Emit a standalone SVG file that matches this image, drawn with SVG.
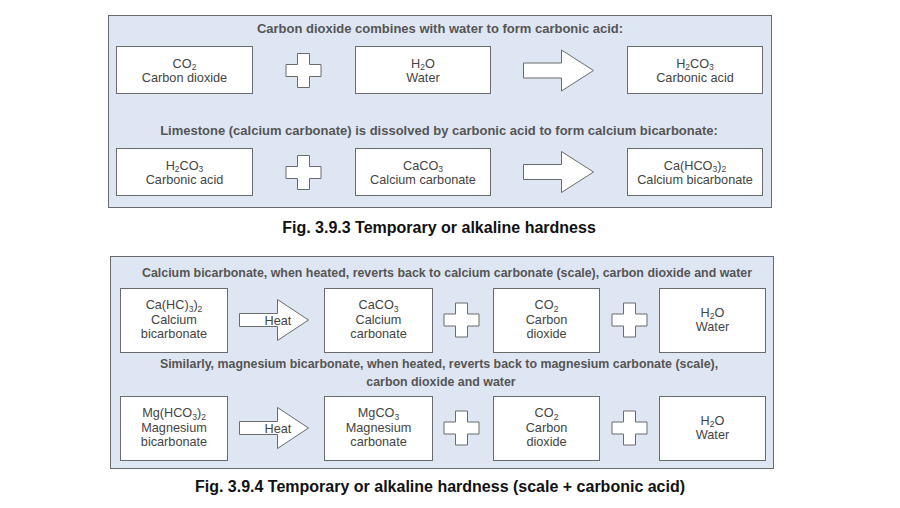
<svg xmlns="http://www.w3.org/2000/svg" width="900" height="508" viewBox="0 0 900 508">
<defs>
<style>
.panel{fill:#dfe6f3;stroke:#6b6b6b;stroke-width:1}
.box{fill:#fff;stroke:#6b6b6b;stroke-width:1}
.shape{fill:#fff;stroke:#6b6b6b;stroke-width:1;stroke-linejoin:miter}
.t{font-family:"Liberation Sans",Arial,sans-serif;font-size:12.7px;fill:#444;text-anchor:middle}
.h{font-family:"Liberation Sans",Arial,sans-serif;font-size:13px;font-weight:bold;fill:#555;text-anchor:middle}
.h2{font-size:12.4px}
.cap{font-family:"Liberation Sans",Arial,sans-serif;font-size:16px;font-weight:bold;fill:#111;text-anchor:middle}
.s{font-size:8.5px}
</style>
<path id="plus" d="M-6,-17H6V-6H17.5V6H6V17H-6V6H-17.5V-6H-6Z"/>
<path id="bigArrow" d="M0,-7.5H38V-20.5L70,0L38,20.5V7.5H0Z"/>
<path id="heatArrow" d="M0,-6.5H38V-20.5L69,0L38,20.5V6.5H0Z"/>
</defs>
<rect width="900" height="508" fill="#fff"/>

<!-- Panel 1 -->
<g id="panel1">
<rect class="panel" x="108.5" y="15.5" width="663" height="192"/>
<text class="h" x="440" y="33">Carbon dioxide combines with water to form carbonic acid:</text>
<text class="h" x="439" y="135">Limestone (calcium carbonate) is dissolved by carbonic acid to form calcium bicarbonate:</text>
</g>

<g id="co2-a">
<rect class="box" x="116.5" y="46.5" width="136" height="47"/>
<text class="t" x="184.5" y="67.5">CO<tspan class="s" dy="2.5">2</tspan></text>
<text class="t" x="184.5" y="81.5">Carbon dioxide</text>
</g>
<g id="h2o-a">
<rect class="box" x="355.5" y="46.5" width="135" height="47"/>
<text class="t" x="423" y="67.5">H<tspan class="s" dy="2.5">2</tspan><tspan dy="-2.5">O</tspan></text>
<text class="t" x="423" y="81.5">Water</text>
</g>
<g id="h2co3-a">
<rect class="box" x="627.5" y="46.5" width="135" height="47"/>
<text class="t" x="695" y="67.5">H<tspan class="s" dy="2.5">2</tspan><tspan dy="-2.5">CO</tspan><tspan class="s" dy="2.5">3</tspan></text>
<text class="t" x="695" y="81.5">Carbonic acid</text>
</g>

<g id="h2co3-b">
<rect class="box" x="116.5" y="148.5" width="136" height="47"/>
<text class="t" x="184.5" y="169.5">H<tspan class="s" dy="2.5">2</tspan><tspan dy="-2.5">CO</tspan><tspan class="s" dy="2.5">3</tspan></text>
<text class="t" x="184.5" y="183.5">Carbonic acid</text>
</g>
<g id="caco3-b">
<rect class="box" x="355.5" y="148.5" width="135" height="47"/>
<text class="t" x="423" y="169.5">CaCO<tspan class="s" dy="2.5">3</tspan></text>
<text class="t" x="423" y="183.5">Calcium carbonate</text>
</g>
<g id="cahco3-b">
<rect class="box" x="627.5" y="148.5" width="135" height="47"/>
<text class="t" x="695" y="169.5">Ca(HCO<tspan class="s" dy="2.5">3</tspan><tspan dy="-2.5">)</tspan><tspan class="s" dy="2.5">2</tspan></text>
<text class="t" x="695" y="183.5">Calcium bicarbonate</text>
</g>

<text class="cap" x="439" y="233">Fig. 3.9.3 Temporary or alkaline hardness</text>

<!-- Panel 2 -->
<g id="panel2">
<rect class="panel" x="110.5" y="256.5" width="663" height="212"/>
<text class="h h2" x="447" y="277">Calcium bicarbonate, when heated, reverts back to calcium carbonate (scale), carbon dioxide and water</text>
<text class="h h2" x="439" y="368">Similarly, magnesium bicarbonate, when heated, reverts back to magnesium carbonate (scale),</text>
<text class="h h2" x="441" y="386">carbon dioxide and water</text>
</g>

<g id="cahc3-c">
<rect class="box" x="120.5" y="288.5" width="107" height="64"/>
<text class="t" x="174" y="309">Ca(HC)<tspan class="s" dy="2.5">3</tspan><tspan dy="-2.5">)</tspan><tspan class="s" dy="2.5">2</tspan></text>
<text class="t" x="174" y="323.5">Calcium</text>
<text class="t" x="174" y="337.5">bicarbonate</text>
</g>
<g id="caco3-c">
<rect class="box" x="324.5" y="288.5" width="108" height="64"/>
<text class="t" x="378.5" y="309">CaCO<tspan class="s" dy="2.5">3</tspan></text>
<text class="t" x="378.5" y="323.5">Calcium</text>
<text class="t" x="378.5" y="337.5">carbonate</text>
</g>
<g id="co2-c">
<rect class="box" x="493.5" y="288.5" width="106" height="64"/>
<text class="t" x="546.5" y="309">CO<tspan class="s" dy="2.5">2</tspan></text>
<text class="t" x="546.5" y="323.5">Carbon</text>
<text class="t" x="546.5" y="337.5">dioxide</text>
</g>
<g id="h2o-c">
<rect class="box" x="659.5" y="288.5" width="106" height="64"/>
<text class="t" x="712.5" y="316.5">H<tspan class="s" dy="2.5">2</tspan><tspan dy="-2.5">O</tspan></text>
<text class="t" x="712.5" y="331">Water</text>
</g>

<g id="mghco3-d">
<rect class="box" x="120.5" y="396.5" width="107" height="64"/>
<text class="t" x="174" y="417">Mg(HCO<tspan class="s" dy="2.5">3</tspan><tspan dy="-2.5">)</tspan><tspan class="s" dy="2.5">2</tspan></text>
<text class="t" x="174" y="431.5">Magnesium</text>
<text class="t" x="174" y="445.5">bicarbonate</text>
</g>
<g id="mgco3-d">
<rect class="box" x="324.5" y="396.5" width="108" height="64"/>
<text class="t" x="378.5" y="417">MgCO<tspan class="s" dy="2.5">3</tspan></text>
<text class="t" x="378.5" y="431.5">Magnesium</text>
<text class="t" x="378.5" y="445.5">carbonate</text>
</g>
<g id="co2-d">
<rect class="box" x="493.5" y="396.5" width="106" height="64"/>
<text class="t" x="546.5" y="417">CO<tspan class="s" dy="2.5">2</tspan></text>
<text class="t" x="546.5" y="431.5">Carbon</text>
<text class="t" x="546.5" y="445.5">dioxide</text>
</g>
<g id="h2o-d">
<rect class="box" x="659.5" y="396.5" width="106" height="64"/>
<text class="t" x="712.5" y="424.5">H<tspan class="s" dy="2.5">2</tspan><tspan dy="-2.5">O</tspan></text>
<text class="t" x="712.5" y="439">Water</text>
</g>

<text class="cap" x="440" y="492">Fig. 3.9.4 Temporary or alkaline hardness (scale + carbonic acid)</text>

<!-- Connectors: plus signs and arrows -->
<g id="connectors">
<use href="#plus" class="shape" x="303.5" y="70.5"/>
<use href="#plus" class="shape" x="303.5" y="172.5"/>
<use href="#bigArrow" class="shape" x="523.5" y="70.5"/>
<use href="#bigArrow" class="shape" x="523.5" y="172"/>
<use href="#heatArrow" class="shape" x="239.5" y="320"/>
<text class="t" x="278" y="324.5">Heat</text>
<use href="#plus" class="shape" x="461.5" y="320"/>
<use href="#plus" class="shape" x="629.5" y="320"/>
<use href="#heatArrow" class="shape" x="239.5" y="428"/>
<text class="t" x="278" y="432.5">Heat</text>
<use href="#plus" class="shape" x="461.5" y="428"/>
<use href="#plus" class="shape" x="629.5" y="428"/>
</g>
</svg>
